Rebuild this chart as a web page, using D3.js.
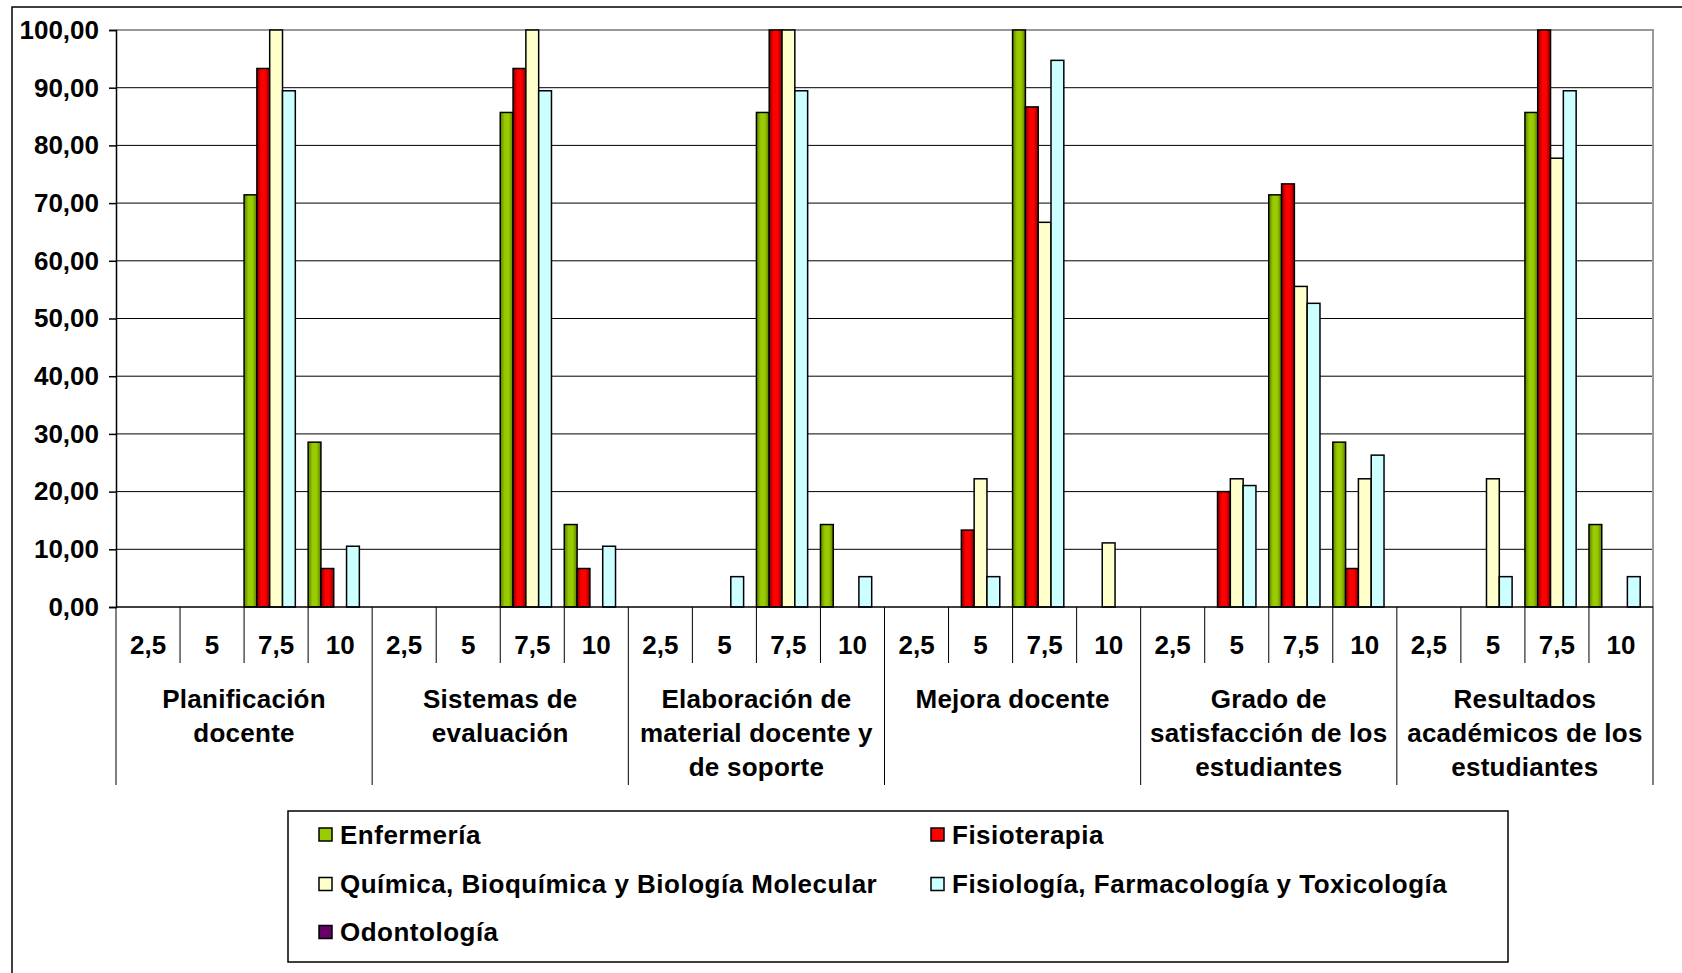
<!DOCTYPE html>
<html><head><meta charset="utf-8">
<script src="https://cdn.jsdelivr.net/npm/d3@7"></script>
<style>html,body{margin:0;padding:0;background:#fff;overflow:hidden}</style>
</head><body><svg id="c" width="1682" height="973"></svg>
<script>
const groups = ["Planificación docente","Sistemas de evaluación","Elaboración de material docente y de soporte","Mejora docente","Grado de satisfacción de los estudiantes","Resultados académicos de los estudiantes"];
const groupLines = [["Planificación","docente"],["Sistemas de","evaluación"],["Elaboración de","material docente y","de soporte"],["Mejora docente"],["Grado de","satisfacción de los","estudiantes"],["Resultados","académicos de los","estudiantes"]];
const scores = ["2,5","5","7,5","10"];
const seriesNames = ["Enfermería","Fisioterapia","Química, Bioquímica y Biología Molecular","Fisiología, Farmacología y Toxicología","Odontología"];
// values per series: 6 groups x 4 scores
const enfermeria = [0,0,71.43,28.57, 0,0,85.71,14.29, 0,0,85.71,14.29, 0,0,100,0, 0,0,71.43,28.57, 0,0,85.71,14.29];
const fisioterapia = [0,0,93.33,6.67, 0,0,93.33,6.67, 0,0,100,0, 0,13.33,86.67,0, 0,20,73.33,6.67, 0,0,100,0];
const quimica = [0,0,100,0, 0,0,100,0, 0,0,100,0, 0,22.22,66.67,11.11, 0,22.22,55.56,22.22, 0,22.22,77.78,0];
const fisiologia = [0,0,89.47,10.53, 0,0,89.47,10.53, 0,5.26,89.47,5.26, 0,5.26,94.74,0, 0,21.05,52.63,26.32, 0,5.26,89.47,5.26];
const odontologia = [0,0,0,0, 0,0,0,0, 0,0,0,0, 0,0,0,0, 0,0,0,0, 0,0,0,0];
const yTicks = [0,10,20,30,40,50,60,70,80,90,100];

const seriesValues = [enfermeria, fisioterapia, quimica, fisiologia, odontologia];
const colors = ["#99CC00","#FF0000","#FFFFCC","#CCFFFF","#660066"];
const dark = ["#5E7F00","#8A0000","#FFFFCC","#CCFFFF","#3A003A"];

const svg = d3.select("#c");
const FONT = "'Liberation Sans', Arial, sans-serif";
const L = 116, R = 1653, T = 30, B = 607;

// outer border
svg.append("rect").attr("x",12).attr("y",7).attr("width",1700).attr("height",1000)
  .attr("fill","none").attr("stroke","#000").attr("stroke-width",1.5);

const defs = svg.append("defs");
seriesNames.forEach((s,i)=>{
  const g = defs.append("linearGradient").attr("id","g"+i).attr("x1","0%").attr("x2","100%").attr("y1","0%").attr("y2","0%");
  g.append("stop").attr("offset","0%").attr("stop-color",dark[i]);
  g.append("stop").attr("offset","35%").attr("stop-color",colors[i]);
  g.append("stop").attr("offset","65%").attr("stop-color",colors[i]);
  g.append("stop").attr("offset","100%").attr("stop-color",dark[i]);
});

const slots = [];
groups.forEach((g,gi)=>scores.forEach((s,si)=>slots.push(gi*4+si)));
const x = d3.scaleBand().domain(slots).range([L,R]).padding(0);
const xs = d3.scaleBand().domain(d3.range(seriesNames.length)).range([0,x.bandwidth()]).padding(0);
const y = d3.scaleLinear().domain([0,100]).range([B,T]);

// gridlines
svg.append("g").selectAll("line").data(yTicks.filter(t=>t>0&&t<100)).join("line")
  .attr("x1",L).attr("x2",R).attr("y1",d=>y(d)).attr("y2",d=>y(d))
  .attr("stroke","#000").attr("stroke-width",1);
// plot border top/right gray
svg.append("path").attr("d",`M${L},${y(100)}H${R}V${B}`).attr("fill","none").attr("stroke","#999").attr("stroke-width",2);

// bars
const bars = [];
seriesValues.forEach((vals,si)=>vals.forEach((v,k)=>{ if(v>0) bars.push({si,k,v}); }));
svg.append("g").selectAll("rect").data(bars).join("rect")
  .attr("x",d=>x(d.k)+xs(d.si)).attr("width",xs.bandwidth())
  .attr("y",d=>y(d.v)).attr("height",d=>y(0)-y(d.v))
  .attr("fill",d=>(d.si<2||d.si==4)?`url(#g${d.si})`:colors[d.si])
  .attr("stroke","#000").attr("stroke-width",1.5);

// y axis
const yAxis = d3.axisLeft(y).tickValues(yTicks).tickSize(7).tickPadding(10)
  .tickFormat(d=>d3.format(".2f")(d).replace(".",","));
const ya = svg.append("g").attr("transform",`translate(${L},0)`).call(yAxis);
ya.select(".domain").attr("stroke","#000").attr("stroke-width",1.5);
ya.selectAll(".tick line").attr("stroke","#000").attr("stroke-width",1.5);
ya.selectAll("text").attr("font-family",FONT).attr("font-weight","bold").attr("font-size",26).attr("fill","#000");

// x axis baseline
svg.append("line").attr("x1",L).attr("x2",R).attr("y1",B).attr("y2",B).attr("stroke","#000").attr("stroke-width",1.5);

// inner separators & labels
const xAxis = d3.axisBottom(x).tickSize(0).tickFormat(d=>scores[d%4]);
const xa = svg.append("g").attr("transform",`translate(0,${B})`).call(xAxis);
xa.select(".domain").remove();
xa.selectAll("text").attr("y",38).attr("dy","0.35em").attr("font-family",FONT).attr("font-weight","bold").attr("font-size",26).attr("fill","#000");
svg.append("g").selectAll("line").data(slots.filter(k=>k%4!==0)).join("line")
  .attr("x1",d=>x(d)).attr("x2",d=>x(d)).attr("y1",B).attr("y2",663)
  .attr("stroke","#000").attr("stroke-width",1);
svg.append("g").selectAll("line").data(d3.range(groups.length+1)).join("line")
  .attr("x1",d=>d<groups.length?x(d*4):R).attr("x2",d=>d<groups.length?x(d*4):R).attr("y1",B).attr("y2",785)
  .attr("stroke","#000").attr("stroke-width",1);

// group labels
const gl = svg.append("g").selectAll("text").data(groups).join("text")
  .attr("x",(d,i)=>x(i*4)+x.bandwidth()*2).attr("y",699)
  .attr("text-anchor","middle").attr("font-family",FONT).attr("font-weight","bold").attr("font-size",26)
  .attr("letter-spacing","0.25px").attr("fill","#000");
gl.selectAll("tspan").data((d,i)=>groupLines[i]).join("tspan")
  .attr("x",function(){return this.parentNode.getAttribute("x");})
  .attr("dy",(d,j)=>j===0?"0.35em":"34px").text(d=>d);

// legend
svg.append("rect").attr("x",288).attr("y",811).attr("width",1220).attr("height",151)
  .attr("fill","#fff").attr("stroke","#000").attr("stroke-width",1.5);
const legPos = [[319,834.5],[931,834.5],[319,884],[931,884],[319,932]];
const lg = svg.append("g").selectAll("g").data(seriesNames).join("g")
  .attr("transform",(d,i)=>`translate(${legPos[i][0]},${legPos[i][1]})`);
lg.append("rect").attr("x",0).attr("y",-6.5).attr("width",13).attr("height",13)
  .attr("fill",(d,i)=>colors[i]).attr("stroke","#000").attr("stroke-width",1.5);
lg.append("text").attr("x",21).attr("dy","0.35em").attr("font-family",FONT).attr("font-weight","bold").attr("font-size",26)
  .attr("letter-spacing","0.5px").attr("fill","#000").text(d=>d);
</script></body></html>
